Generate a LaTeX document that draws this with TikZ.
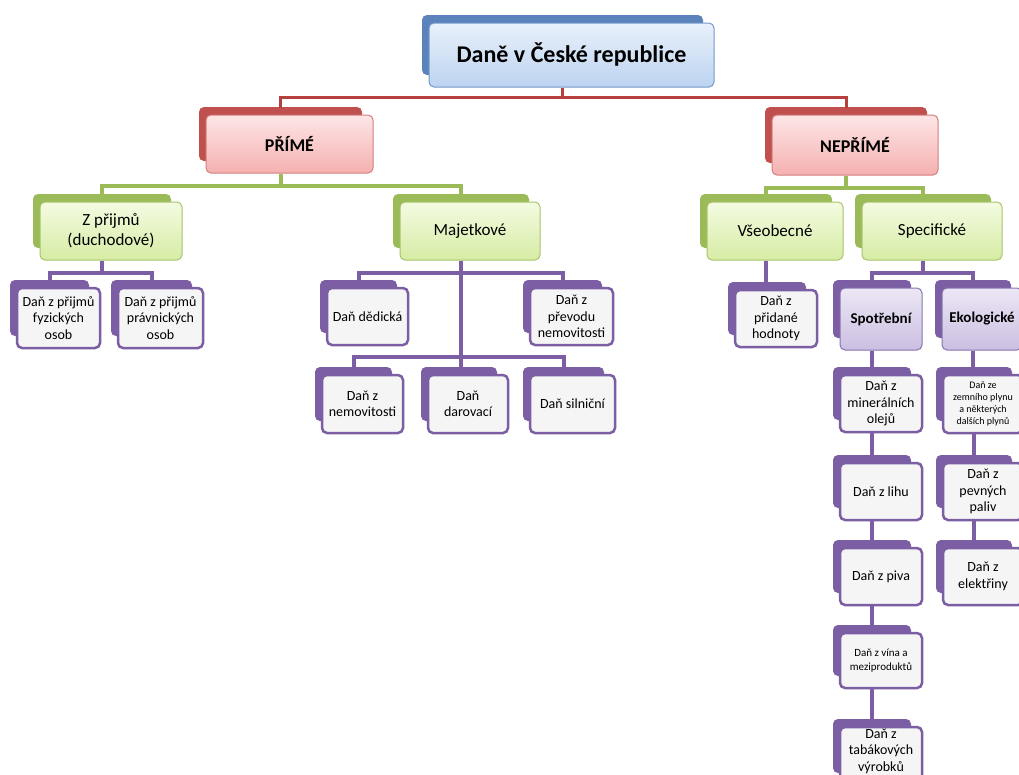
\documentclass[tikz,border=0pt]{standalone}
\usepackage{fontspec}
\setmainfont{Carlito}
\usetikzlibrary{calc}
\definecolor{blueback}{HTML}{5B82BB}
\definecolor{redback}{HTML}{C0504D}
\definecolor{grback}{HTML}{9BBB59}
\definecolor{pback}{HTML}{7B5EA3}
\definecolor{redline}{HTML}{B5403D}
\definecolor{grline}{HTML}{9BBB59}
\definecolor{pline}{HTML}{7B5EA3}
\definecolor{HTML-E9F1FB}{HTML}{E9F1FB}
\definecolor{HTML-BCD3F0}{HTML}{BCD3F0}
\definecolor{HTML-7399CC}{HTML}{7399CC}
\definecolor{HTML-FDE6E6}{HTML}{FDE6E6}
\definecolor{HTML-F5B0B0}{HTML}{F5B0B0}
\definecolor{HTML-D47F7D}{HTML}{D47F7D}
\definecolor{HTML-F4FBE2}{HTML}{F4FBE2}
\definecolor{HTML-D6ECA4}{HTML}{D6ECA4}
\definecolor{HTML-A7C46A}{HTML}{A7C46A}
\definecolor{HTML-F5F5F5}{HTML}{F5F5F5}
\definecolor{HTML-ECE7F5}{HTML}{ECE7F5}
\definecolor{HTML-CBBFE2}{HTML}{CBBFE2}
\definecolor{HTML-8A73AD}{HTML}{8A73AD}
\tikzset{
  fbox/.style={rounded corners=5pt, align=center, inner sep=1pt, text=black},
  topf/.style={fbox, top color=HTML-E9F1FB, bottom color=HTML-BCD3F0, draw=HTML-7399CC, line width=1pt,
    font=\fontsize{24}{28}\selectfont\bfseries},
  redf/.style={fbox, top color=HTML-FDE6E6, bottom color=HTML-F5B0B0, draw=HTML-D47F7D, line width=1pt,
    font=\fontsize{18}{22}\selectfont\bfseries},
  grf/.style={fbox, top color=HTML-F4FBE2, bottom color=HTML-D6ECA4, draw=HTML-A7C46A, line width=1pt,
    font=\fontsize{17}{20}\selectfont},
  leaf/.style={fbox, fill=HTML-F5F5F5, draw=pback, line width=2.5pt,
    font=\fontsize{14}{16.5}\selectfont},
  lavf/.style={fbox, top color=HTML-ECE7F5, bottom color=HTML-CBBFE2, draw=HTML-8A73AD, line width=1pt,
    font=\fontsize{15}{18}\selectfont\bfseries},
  small/.style={font=\fontsize{11}{14}\selectfont},
  tiny/.style={font=\fontsize{10}{12}\selectfont},
  redc/.style={draw=redline, line width=3pt},
  grc/.style={draw=grline, line width=4pt},
  pc/.style={draw=pline, line width=4pt},
}
% name, front style, back colour, x1, y1, x2, y2, text
\newcommand\bx[8]{%
  \fill[#3, rounded corners=5pt] ({#4-7},{#5-8}) rectangle ({#6-11},{#7-12});
  \node[#2, minimum width={#6-#4}, minimum height={#7-#5}] (#1) at ({(#4+#6)/2},{(#5+#7)/2}) {#8};
  \coordinate (#1-t) at ($(#1.north)+(-9,-7)$);
  \coordinate (#1-b) at ($(#1.south)+(-9,0)$);
}
\begin{document}
\begin{tikzpicture}[x=1pt, y=-1pt]
\fill[white] (0,0) rectangle (1019,774);
\useasboundingbox (0,0) rectangle (1019,774);

\bx{top}{topf}{blueback}{429}{23}{714}{87}{Daně v České republice}
\bx{prime}{redf}{redback}{206}{115}{373}{173}{PŘÍMÉ}
\bx{neprime}{redf}{redback}{772}{115}{938}{175}{NEPŘÍMÉ}
\bx{zprijmu}{grf}{grback}{40}{202}{182}{260}{Z přijmů\\(duchodové)}
\bx{majet}{grf}{grback}{400}{202}{540}{260}{Majetkové}
\bx{vseob}{grf}{grback}{707}{202}{843}{260}{Všeobecné}
\bx{specif}{grf}{grback}{862}{202}{1002}{260}{Specifické}
\bx{fyz}{leaf}{pback}{17}{288}{100}{348}{Daň z přijmů\\fyzických\\osob}
\bx{prav}{leaf}{pback}{118}{288}{203}{348}{Daň z přijmů\\právnických\\osob}
\bx{dedic}{leaf}{pback}{327}{288}{408}{345}{Daň dědická}
\bx{prevod}{leaf}{pback}{530}{288}{613}{345}{Daň z\\převodu\\nemovitosti}
\bx{nemov}{leaf}{pback}{322}{375}{403}{433}{Daň z\\nemovitosti}
\bx{darov}{leaf}{pback}{428}{375}{508}{433}{Daň\\darovací}
\bx{silni}{leaf}{pback}{530}{375}{615}{433}{Daň silniční}
\bx{dph}{leaf}{pback}{735}{290}{817}{347}{Daň z\\přidané\\hodnoty}
\bx{spotr}{lavf}{pback}{840}{288}{922}{350}{Spotřební}
\bx{ekol}{lavf}{pback}{942}{288}{1022}{350}{Ekologické}
\bx{miner}{leaf}{pback}{840}{375}{922}{432}{Daň z\\minerálních\\olejů}
\bx{lih}{leaf}{pback}{840}{463}{922}{520}{Daň z lihu}
\bx{piva}{leaf}{pback}{840}{548}{922}{605}{Daň z piva}
\bx{vina}{leaf,small}{pback}{840}{633}{922}{688}{Daň z vína a\\meziproduktů}
\bx{tabak}{leaf}{pback}{840}{727}{922}{785}{Daň z\\tabákových\\výrobků\\[-5pt]\mbox{}}
\bx{zemni}{leaf,tiny}{pback}{943}{375}{1023}{433}{Daň ze\\zemního plynu\\a některých\\dalších plynů}
\bx{pevn}{leaf}{pback}{943}{463}{1023}{520}{Daň z\\pevných\\paliv}
\bx{elek}{leaf}{pback}{943}{548}{1023}{605}{Daň z\\elektřiny}

% red level
\draw[redc] (top-b) -- ++(0,10) -| (prime-t);
\draw[redc] (top-b) -- ++(0,10) -| (neprime-t);
% green level
\draw[grc] (prime-b) -- ++(0,12) -| (zprijmu-t);
\draw[grc] (prime-b) -- ++(0,12) -| (majet-t);
\draw[grc] (neprime-b) -- ++(0,12) -| (vseob-t);
\draw[grc] (neprime-b) -- ++(0,12) -| (specif-t);
% purple level
\draw[pc] (zprijmu-b) -- ++(0,12) -| (fyz-t);
\draw[pc] (zprijmu-b) -- ++(0,12) -| (prav-t);
\draw[pc] (majet-b) -- ++(0,12) -| (dedic-t);
\draw[pc] (majet-b) -- ++(0,12) -| (prevod-t);
\draw[pc] (majet-b) -- (majet-b |- darov-t);
\draw[pc] ($(majet-b |- darov-t)+(0,-10)$) -| (nemov-t);
\draw[pc] ($(majet-b |- darov-t)+(0,-10)$) -| (silni-t);
\draw[pc] (vseob-b) -- (vseob-b |- dph-t);
\draw[pc] (specif-b) -- ++(0,12) -| (spotr-t);
\draw[pc] (specif-b) -- ++(0,12) -| (ekol-t);
\draw[pc] (spotr-b) -- (spotr-b |- miner-t);
\draw[pc] (miner-b) -- (miner-b |- lih-t);
\draw[pc] (lih-b) -- (lih-b |- piva-t);
\draw[pc] (piva-b) -- (piva-b |- vina-t);
\draw[pc] (vina-b) -- (vina-b |- tabak-t);
\draw[pc] (ekol-b) -- (ekol-b |- zemni-t);
\draw[pc] (zemni-b) -- (zemni-b |- pevn-t);
\draw[pc] (pevn-b) -- (pevn-b |- elek-t);
\end{tikzpicture}
\end{document}
